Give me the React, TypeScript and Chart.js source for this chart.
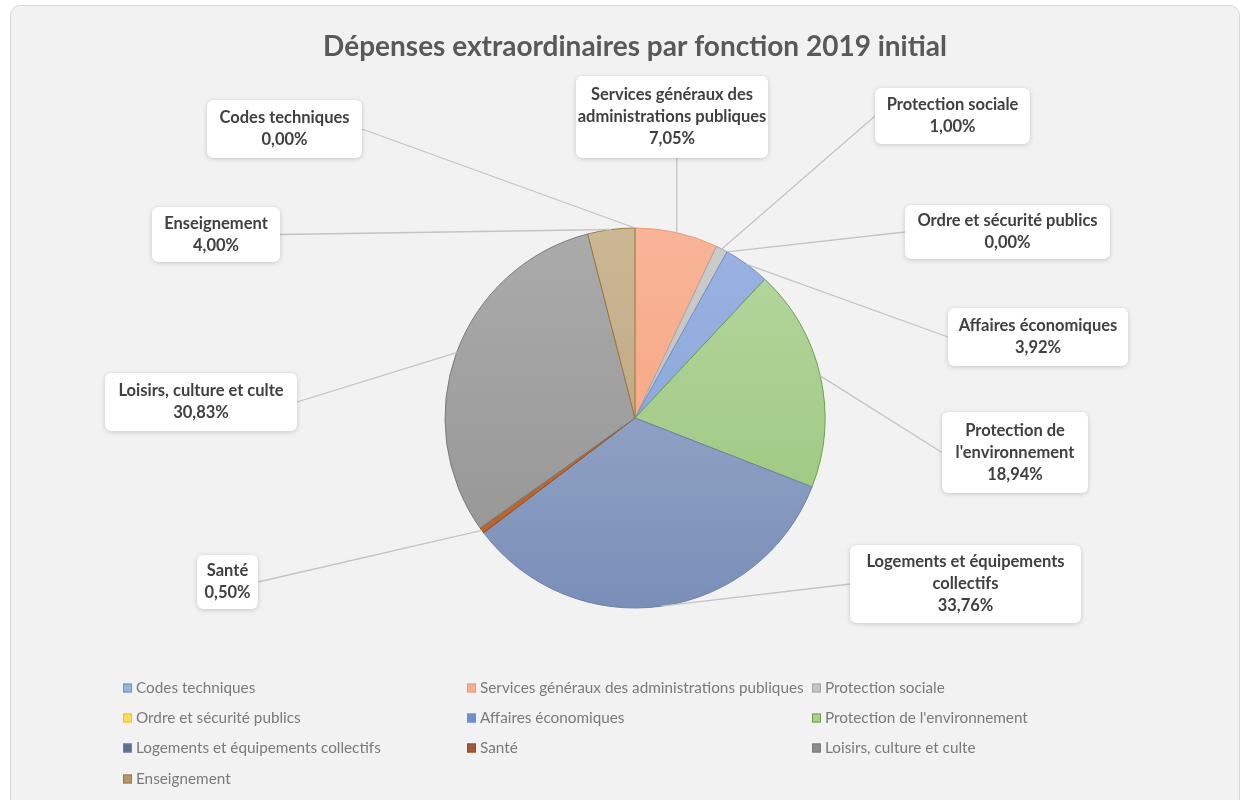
import React, { useEffect, useRef } from "react";
import { Chart, registerables } from "chart.js";

Chart.register(...registerables);

const TITLE = "Dépenses extraordinaires par fonction 2019 initial";

const CATEGORIES = [
  "Codes techniques",
  "Services généraux des administrations publiques",
  "Protection sociale",
  "Ordre et sécurité publics",
  "Affaires économiques",
  "Protection de l'environnement",
  "Logements et équipements collectifs",
  "Santé",
  "Loisirs, culture et culte",
  "Enseignement",
];

const SHARES = [0.0, 7.05, 1.0, 0.0, 3.92, 18.94, 33.76, 0.5, 30.83, 4.0];

// wrapped text of the callout labels
const LABEL_LINES = [
  ["Codes techniques"],
  ["Services généraux des", "administrations publiques"],
  ["Protection sociale"],
  ["Ordre et sécurité publics"],
  ["Affaires économiques"],
  ["Protection de", "l'environnement"],
  ["Logements et équipements", "collectifs"],
  ["Santé"],
  ["Loisirs, culture et culte"],
  ["Enseignement"],
];

const COLORS_TOP = [
  "#7fb0de", "#f9b497", "#cccccc", "#ffd966", "#9ab3e2",
  "#b6d79f", "#a3b2ce", "#c8784a", "#ababab", "#ccb795",
];
const COLORS_BOTTOM = [
  "#6a9fd0", "#f4a07c", "#bcbcbc", "#ffc000", "#859fd6",
  "#97c47a", "#7a8fb8", "#b0602a", "#939393", "#b89f78",
];
const BORDER_COLORS = [
  "#5b9bd5", "#ee9a73", "#a5a5a5", "#ffc000", "#6f8fcf",
  "#6f9e4f", "#6b80ab", "#9e480e", "#7a7a7a", "#997a3a",
];
const LEGEND_COLORS = [
  "#8fb5e0", "#f4b08e", "#c4c4c4", "#ffd966", "#6f8fcf",
  "#a9d18e", "#5a6f96", "#9e5a3a", "#8c8c8c", "#b09a6a",
];

// layout of the callout boxes [x1, y1, x2, y2]
const LABEL_BOXES = [
  [207, 100, 362, 158],
  [576, 76, 768, 158],
  [875, 88, 1030, 144],
  [905, 205, 1110, 259],
  [948, 308, 1128, 366],
  [942, 412, 1088, 493],
  [850, 545, 1081, 623],
  [197, 555, 258, 609],
  [105, 373, 297, 431],
  [152, 207, 280, 262],
];

const LEGEND_COLS = [123, 467, 812];
const LEGEND_ROWS = [688, 718, 748, 779];

const fmtPct = (v: number) => v.toFixed(2).replace(".", ",") + "%";

function roundRect(ctx: CanvasRenderingContext2D, x: number, y: number, w: number, h: number, r: number) {
  ctx.beginPath();
  ctx.moveTo(x + r, y);
  ctx.lineTo(x + w - r, y);
  ctx.quadraticCurveTo(x + w, y, x + w, y + r);
  ctx.lineTo(x + w, y + h - r);
  ctx.quadraticCurveTo(x + w, y + h, x + w - r, y + h);
  ctx.lineTo(x + r, y + h);
  ctx.quadraticCurveTo(x, y + h, x, y + h - r);
  ctx.lineTo(x, y + r);
  ctx.quadraticCurveTo(x, y, x + r, y);
  ctx.closePath();
}

const calloutPlugin = {
  id: "callouts",
  afterDatasetsDraw(chart: any) {
    const ctx: CanvasRenderingContext2D = chart.ctx;
    const meta = chart.getDatasetMeta(0);
    const ds = chart.data.datasets[0];
    ctx.save();
    // leader lines
    meta.data.forEach((arc: any, i: number) => {
      const p = arc.getProps(["x", "y", "startAngle", "endAngle", "outerRadius"], true);
      const mid = (p.startAngle + p.endAngle) / 2;
      const ax = p.x + Math.cos(mid) * p.outerRadius;
      const ay = p.y + Math.sin(mid) * p.outerRadius;
      const [x1, y1, x2, y2] = LABEL_BOXES[i];
      let px: number, py: number;
      if (ax < x1) { px = x1; py = (y1 + y2) / 2; }
      else if (ax > x2) { px = x2; py = (y1 + y2) / 2; }
      else { px = ax; py = ay > y2 ? y2 : y1; }
      ctx.beginPath();
      ctx.moveTo(px, py);
      ctx.lineTo(ax, ay);
      ctx.strokeStyle = "#c4c4c4";
      ctx.lineWidth = 1.3;
      ctx.stroke();
    });
    // boxes
    meta.data.forEach((_arc: any, i: number) => {
      const [x1, y1, x2, y2] = LABEL_BOXES[i];
      ctx.save();
      ctx.shadowColor = "rgba(0,0,0,0.18)";
      ctx.shadowBlur = 5;
      ctx.shadowOffsetX = 0;
      ctx.shadowOffsetY = 1;
      roundRect(ctx, x1, y1, x2 - x1, y2 - y1, 7);
      ctx.fillStyle = "#ffffff";
      ctx.fill();
      ctx.restore();
      const lines = [...LABEL_LINES[i], fmtPct(ds.data[i])];
      const lh = 22;
      const cx = (x1 + x2) / 2;
      const cy = (y1 + y2) / 2;
      ctx.font = "bold 16.5px Lato";
      ctx.fillStyle = "#404040";
      ctx.textAlign = "center";
      ctx.textBaseline = "middle";
      lines.forEach((t, k) => {
        ctx.fillText(t, cx, cy + (k - (lines.length - 1) / 2) * lh);
      });
    });
    ctx.restore();
  },
  afterDraw(chart: any) {
    const ctx: CanvasRenderingContext2D = chart.ctx;
    ctx.save();
    ctx.font = "15.3px Lato";
    ctx.textAlign = "left";
    ctx.textBaseline = "middle";
    chart.data.labels.forEach((lab: string, i: number) => {
      const col = i % 3;
      const row = Math.floor(i / 3);
      const x = LEGEND_COLS[col];
      const y = LEGEND_ROWS[row];
      ctx.fillStyle = LEGEND_COLORS[i];
      ctx.fillRect(x, y - 4.5, 9, 9);
      ctx.strokeStyle = BORDER_COLORS[i];
      ctx.lineWidth = 1;
      ctx.strokeRect(x + 0.5, y - 4, 8, 8);
      ctx.fillStyle = "#7a7a7a";
      ctx.fillText(lab, x + 13, y);
    });
    ctx.restore();
  },
};

export default function App() {
  const ref = useRef<HTMLCanvasElement>(null);
  useEffect(() => {
    if (!ref.current) return;
    const chart = new Chart(ref.current, {
      type: "pie",
      data: {
        labels: CATEGORIES,
        datasets: [
          {
            data: SHARES,
            radius: 190,
            backgroundColor: (c: any) => {
              const ch = c.chart;
              const a = ch.chartArea;
              const i = c.dataIndex;
              if (!a) return COLORS_TOP[i];
              const g = ch.ctx.createLinearGradient(0, 228, 0, 608);
              g.addColorStop(0, COLORS_TOP[i]);
              g.addColorStop(1, COLORS_BOTTOM[i]);
              return g;
            },
            borderColor: BORDER_COLORS,
            borderWidth: 1,
          } as any,
        ],
      },
      options: {
        responsive: false,
        animation: false,
        devicePixelRatio: 1,
        layout: { padding: { top: 20, left: 24, right: 0, bottom: 37.6 } },
        plugins: {
          legend: { display: false },
          tooltip: { enabled: false },
          title: {
            display: true,
            text: TITLE,
            color: "#595959",
            font: { family: "Lato", size: 28, weight: "bold", lineHeight: 1.2 },
            padding: { top: 10, bottom: 10 },
          },
        },
      },
      plugins: [calloutPlugin],
    });
    return () => chart.destroy();
  }, []);

  return (
    <div style={{ position: "fixed", left: 0, top: 0, width: 1246, height: 800, background: "#ffffff", overflow: "hidden" }}>
      <div
        style={{
          position: "absolute",
          left: 10,
          top: 5,
          width: 1228,
          height: 810,
          background: "#f2f2f2",
          border: "1px solid #d9d9d9",
          borderRadius: 10,
        }}
      />
      <canvas ref={ref} width={1246} height={800} style={{ position: "absolute", left: 0, top: 0 }} />
    </div>
  );
}
